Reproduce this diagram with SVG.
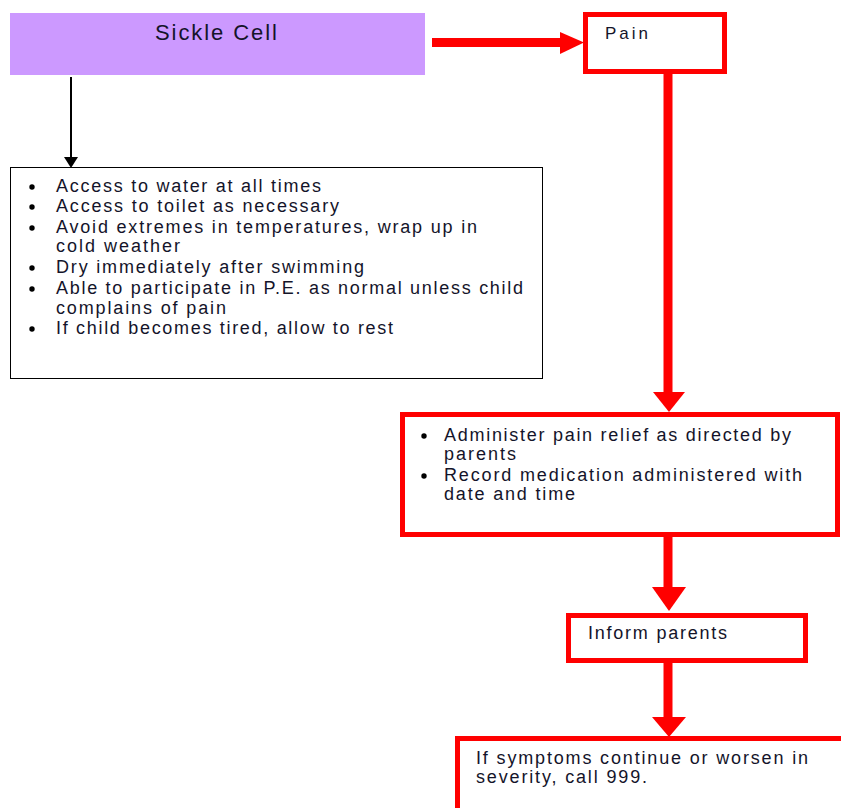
<svg xmlns="http://www.w3.org/2000/svg" width="841" height="808" viewBox="0 0 841 808">
  <style>
    text { font-family: "Liberation Sans", Arial, sans-serif; fill: #14142a; }
    .t17 { font-size: 18px; }
    .t16 { font-size: 17px; }
    .red { fill: #ffffff; stroke: #ff0000; stroke-width: 5; }
    .shaft { stroke: #ff0000; stroke-width: 9; fill: none; }
    .head { fill: #ff0000; }
    .dot { fill: #000000; }
  </style>

  <!-- connectors -->
  <g id="connectors">
    <!-- Sickle Cell -> Pain -->
    <line class="shaft" x1="432" y1="42.5" x2="562" y2="42.5"/>
    <polygon class="head" points="560,32 584,42.5 560,54"/>
    <!-- Sickle Cell -> advice list -->
    <line x1="71" y1="77" x2="71" y2="159" stroke="#000" stroke-width="2"/>
    <polygon points="64,157 78,157 71,168" fill="#000"/>
    <!-- Pain -> pain relief -->
    <line class="shaft" x1="668" y1="73" x2="668" y2="394"/>
    <polygon class="head" points="653,392 685,392 669,412"/>
    <!-- pain relief -> Inform parents -->
    <line class="shaft" x1="668" y1="537" x2="668" y2="589"/>
    <polygon class="head" points="652,587 686,587 669,611"/>
    <!-- Inform parents -> emergency -->
    <line class="shaft" x1="668" y1="663" x2="668" y2="719"/>
    <polygon class="head" points="652,717 686,717 669,737"/>
  </g>

  <!-- Sickle Cell -->
  <g id="sickle-cell">
    <rect x="10" y="13" width="415" height="62" fill="#cc99ff"/>
    <text x="155" y="40" font-size="22" textLength="122" lengthAdjust="spacing">Sickle Cell</text>
  </g>

  <!-- Pain -->
  <g id="pain">
    <rect class="red" x="585.5" y="14.5" width="139" height="57"/>
    <text class="t16" x="605" y="39" textLength="43" lengthAdjust="spacing">Pain</text>
  </g>

  <!-- general advice list -->
  <g id="advice">
    <rect x="10.5" y="167.5" width="532" height="211" fill="#ffffff" stroke="#000" stroke-width="1"/>
    <circle class="dot" cx="32" cy="187" r="2.7"/>
    <circle class="dot" cx="32" cy="207" r="2.7"/>
    <circle class="dot" cx="32" cy="228" r="2.7"/>
    <circle class="dot" cx="32" cy="268" r="2.7"/>
    <circle class="dot" cx="32" cy="289" r="2.7"/>
    <circle class="dot" cx="32" cy="329" r="2.7"/>
    <text class="t17" x="56" y="192" textLength="265" lengthAdjust="spacing">Access to water at all times</text>
    <text class="t17" x="56" y="212" textLength="283" lengthAdjust="spacing">Access to toilet as necessary</text>
    <text class="t17" x="56" y="233" textLength="421" lengthAdjust="spacing">Avoid extremes in temperatures, wrap up in</text>
    <text class="t17" x="56" y="252" textLength="124" lengthAdjust="spacing">cold weather</text>
    <text class="t17" x="56" y="273" textLength="308" lengthAdjust="spacing">Dry immediately after swimming</text>
    <text class="t17" x="56" y="294" textLength="467" lengthAdjust="spacing">Able to participate in P.E. as normal unless child</text>
    <text class="t17" x="56" y="314" textLength="170" lengthAdjust="spacing">complains of pain</text>
    <text class="t17" x="56" y="334" textLength="337" lengthAdjust="spacing">If child becomes tired, allow to rest</text>
  </g>

  <!-- pain relief -->
  <g id="pain-relief">
    <rect class="red" x="402.5" y="414.5" width="435" height="120"/>
    <circle class="dot" cx="424" cy="436" r="2.7"/>
    <circle class="dot" cx="424" cy="476" r="2.7"/>
    <text class="t17" x="444" y="441" textLength="347" lengthAdjust="spacing">Administer pain relief as directed by</text>
    <text class="t17" x="444" y="460" textLength="72" lengthAdjust="spacing">parents</text>
    <text class="t17" x="444" y="481" textLength="358" lengthAdjust="spacing">Record medication administered with</text>
    <text class="t17" x="444" y="500" textLength="131" lengthAdjust="spacing">date and time</text>
  </g>

  <!-- Inform parents -->
  <g id="inform-parents">
    <rect class="red" x="568.5" y="615.5" width="237" height="45"/>
    <text class="t17" x="588" y="639" textLength="139" lengthAdjust="spacing">Inform parents</text>
  </g>

  <!-- emergency -->
  <g id="emergency">
    <rect class="red" x="457.5" y="738.5" width="400" height="100"/>
    <text class="t17" x="476" y="764" textLength="332" lengthAdjust="spacing">If symptoms continue or worsen in</text>
    <text class="t17" x="476" y="783" textLength="171" lengthAdjust="spacing">severity, call 999.</text>
  </g>
</svg>
